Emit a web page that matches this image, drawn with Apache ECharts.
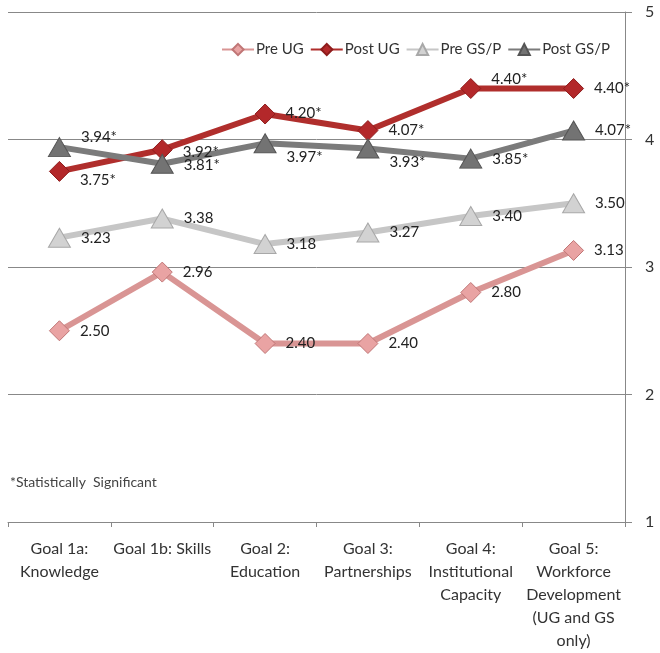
<!DOCTYPE html>
<html><head><meta charset="utf-8">
<script src="https://cdn.jsdelivr.net/npm/echarts@6/dist/echarts.min.js"></script>
<style>html,body{margin:0;padding:0;background:#fff}#c{width:660px;height:653px}</style>
</head><body><div id="c"></div>
<script>
const categories = ['Goal 1a:\nKnowledge', 'Goal 1b: Skills', 'Goal 2:\nEducation', 'Goal 3:\nPartnerships', 'Goal 4:\nInstitutional\nCapacity', 'Goal 5:\nWorkforce\nDevelopment\n(UG and GS\nonly)'];
const preUG = [2.50, 2.96, 2.40, 2.40, 2.80, 3.13];
const postUG = [3.75, 3.92, 4.20, 4.07, 4.40, 4.40];
const preGSP = [3.23, 3.38, 3.18, 3.27, 3.40, 3.50];
const postGSP = [3.94, 3.81, 3.97, 3.93, 3.85, 4.07];
const postUGSig = [true, true, true, true, true, true];
const postGSPSig = [true, true, true, true, true, true];
const yTicks = [1, 2, 3, 4, 5];

// label vertical offsets (style only)
const postUGOff = [9, 2, -1, 0, -9, 0];
const postGSPOff = [-10, 1, 14, 14, 1, 0];

const FONT = 'Lato';
function mk(name, vals, sig, offs, color, lineColor, symbol, size, border) {
  return {
    name, type: 'line', data: vals.map((v, i) => ({
      value: v,
      label: { offset: [0, offs ? offs[i] : 0] }
    })),
    symbol, symbolSize: size,
    lineStyle: { color: lineColor, width: 6 },
    itemStyle: { color: color, borderColor: border, borderWidth: 1 },
    label: {
      show: true, position: 'right', distance: 10,
      fontFamily: FONT, fontSize: 15, color: '#222',
      formatter: p => p.value.toFixed(2) + (sig && sig[p.dataIndex] ? '*' : '')
    },
    emphasis: { disabled: true },
    animation: false
  };
}

const chart = echarts.init(document.getElementById('c'));
chart.setOption({
  animation: false,
  textStyle: { fontFamily: FONT },
  grid: { left: 8, right: 35, top: 12, bottom: 131, containLabel: false, outerBoundsMode: 'none' },
  legend: {
    top: 37, left: 216, itemWidth: 32, itemHeight: 14, itemGap: 6,
    textStyle: { fontFamily: FONT, fontSize: 15, color: '#333', padding: [0, 0, 0, -3] },
    data: ['Pre UG', 'Post UG', 'Pre GS/P', 'Post GS/P']
  },
  xAxis: {
    type: 'category', data: categories, boundaryGap: true,
    axisLine: { lineStyle: { color: '#888' } },
    axisTick: { show: true, length: 5, lineStyle: { color: '#888' } },
    axisLabel: { fontFamily: FONT, fontSize: 16, color: '#333', lineHeight: 23, margin: 15, interval: 0 }
  },
  yAxis: {
    type: 'value', position: 'right', min: yTicks[0], max: yTicks[yTicks.length - 1], interval: 1,
    axisLine: { show: true, lineStyle: { color: '#888' } },
    axisTick: { show: true, length: 7, lineStyle: { color: '#888' } },
    axisLabel: { fontFamily: FONT, fontSize: 16, color: '#333', margin: 20 },
    splitLine: { show: true, lineStyle: { color: '#888', width: 1 } }
  },
  graphic: [{
    type: 'text', left: 10, top: 475,
    style: { text: '*Statistically  Significant', fontFamily: FONT, fontSize: 14, fill: '#444' }
  }],
  series: [
    mk('Pre UG', preUG, null, null, '#e9a3a3', '#d99594', 'diamond', [20, 20], '#c07676'),
    mk('Post UG', postUG, postUGSig, postUGOff, '#b3282a', '#b02e2c', 'diamond', [20, 20], '#8e1c1c'),
    mk('Pre GS/P', preGSP, null, null, '#d2d2d2', '#c6c6c6', 'triangle', [22, 19], '#a8a8a8'),
    mk('Post GS/P', postGSP, postGSPSig, postGSPOff, '#737373', '#7b7b7b', 'triangle', [22, 19], '#555')
  ]
});
</script></body></html>
